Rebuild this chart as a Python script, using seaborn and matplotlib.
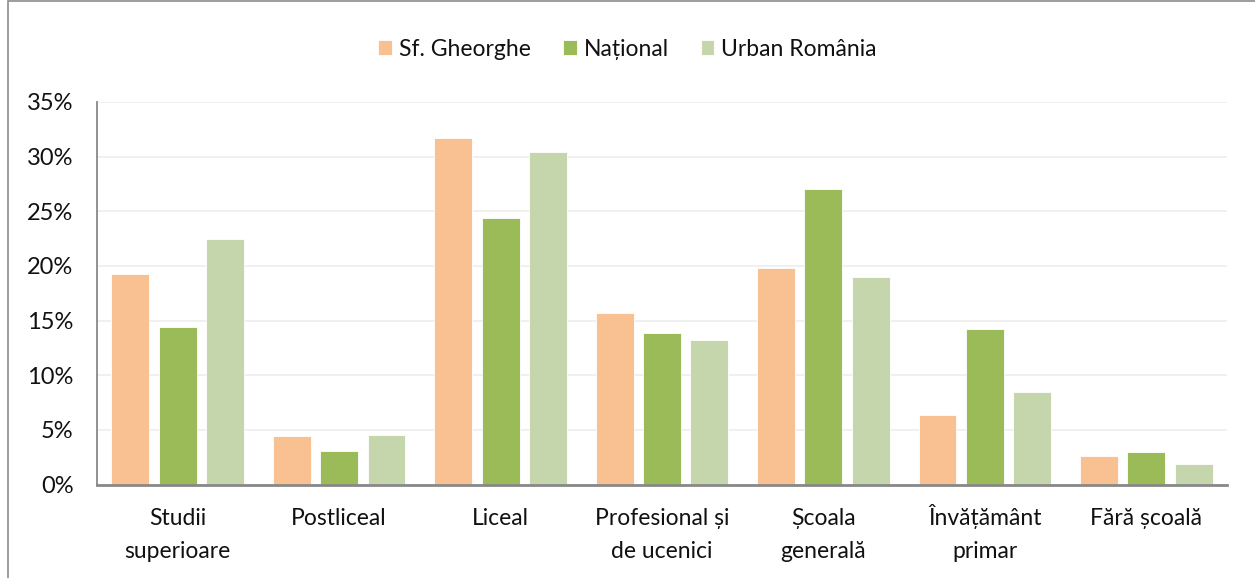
import pandas as pd
import matplotlib.pyplot as plt
import seaborn as sns
from matplotlib.ticker import PercentFormatter
from matplotlib.patches import Rectangle
from matplotlib.transforms import ScaledTranslation

# Categorii si valori (procente)
categorii = ['Studii\nsuperioare', 'Postliceal', 'Liceal', 'Profesional și\nde ucenici',
             'Școala\ngenerală', 'Învățământ\nprimar', 'Fără școală']
serii = ['Sf. Gheorghe', 'Național', 'Urban România']
sf_gheorghe = [19.3, 4.4, 31.7, 15.7, 19.8, 6.4, 2.6]
national = [14.4, 3.1, 24.4, 13.9, 27.0, 14.2, 3.0]
urban_romania = [22.5, 4.5, 30.4, 13.2, 19.0, 8.5, 1.9]
culori = ['#F9C091', '#9BBB59', '#C6D6AC']

df = pd.DataFrame({
    'categorie': categorii * 3,
    'serie': [serii[0]] * 7 + [serii[1]] * 7 + [serii[2]] * 7,
    'valoare': sf_gheorghe + national + urban_romania,
})

sns.set_style('white')
plt.rcParams['font.family'] = ['Lato', 'DejaVu Sans']

fig = plt.figure(figsize=(12.55, 5.78), dpi=100)
ax = fig.add_axes([97 / 1255, 1 - 484.5 / 578, 1130 / 1255, 382.5 / 578])

sns.barplot(data=df, x='categorie', y='valoare', hue='serie', palette=culori,
            saturation=1, width=0.88, gap=0.2, ax=ax, legend=True,
            edgecolor='white', linewidth=0.6)

ax.set_ylim(0, 35)
ax.set_xlim(-0.5, 6.5)
ax.set_yticks(range(0, 36, 5))
ax.yaxis.set_major_formatter(PercentFormatter(decimals=0))
ax.grid(axis='y', color='#EFEFEF', linewidth=1.3)
ax.set_axisbelow(True)
ax.set_xlabel('')
ax.set_ylabel('')
for s in ['top', 'right']:
    ax.spines[s].set_visible(False)
ax.spines['left'].set_color('#888888')
ax.spines['left'].set_linewidth(1.3)
ax.spines['bottom'].set_color('#888888')
ax.spines['bottom'].set_linewidth(2)
ax.tick_params(axis='y', length=0, pad=17, labelsize=17, labelcolor='#111111')
ax.tick_params(axis='x', length=0, pad=17, labelsize=16.5, labelcolor='#111111')
for t in ax.get_xticklabels():
    t.set_linespacing(1.7)
    t.set_verticalalignment('top')
    if t.get_text().startswith('Î'):
        # accentul de pe I impinge eticheta in jos; o ridicam putin
        t.set_transform(t.get_transform() + ScaledTranslation(0, 3 / 72, fig.dpi_scale_trans))

handles, labels = ax.get_legend_handles_labels()
ax.get_legend().remove()
fig.legend(handles, labels, loc='center', bbox_to_anchor=(0.5, 1 - 49 / 578), ncol=3,
           frameon=False, fontsize=16.5, handlelength=0.6, handleheight=0.6,
           handletextpad=0.3, columnspacing=1.4, labelcolor='#111111')

# chenarul graficului
fig.patches.append(Rectangle((8 / 1255, -0.05), 1.2, 1.05 - 1 / 578, transform=fig.transFigure,
                             fill=False, edgecolor='#8C8C8C', linewidth=1.2))

fig.savefig('out.png', dpi=100)
